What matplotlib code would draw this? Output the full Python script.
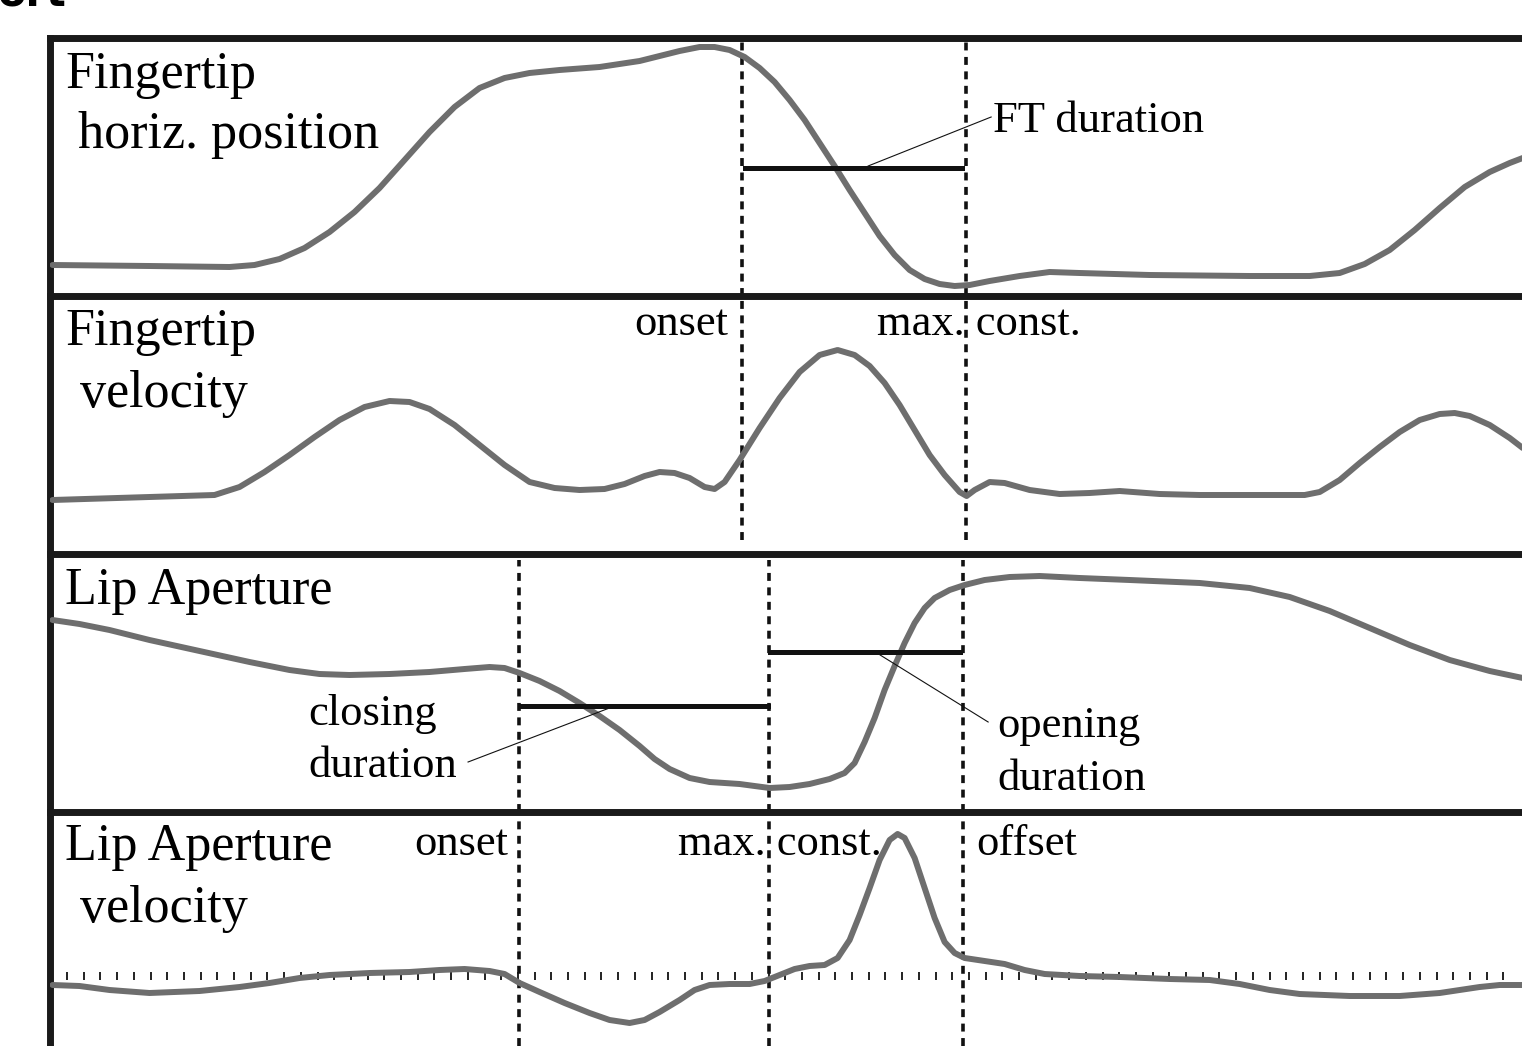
import numpy as np
import matplotlib
matplotlib.use("Agg")
import matplotlib.pyplot as plt

# time axis in frames, amplitudes in arbitrary units
ft_pos_t = [3, 100, 180, 205, 230, 255, 280, 305, 330, 355, 380, 405, 430, 455, 480, 510, 550, 590,
            630, 650, 665, 680, 695, 710, 725, 740, 755, 770, 785, 800, 815, 830, 845, 860, 875, 890,
            905, 920, 940, 970, 1000, 1030, 1100, 1200, 1260, 1290, 1315, 1340, 1365, 1390, 1415,
            1440, 1460, 1473]
ft_pos_v = [31, 30, 29, 31, 37, 48, 64, 84, 108, 136, 164, 189, 208, 218, 223, 226, 229, 235,
            245, 249, 249, 246, 239, 228, 214, 196, 176, 153, 130, 106, 83, 60, 41, 26, 17, 12,
            10, 11, 15, 20, 24, 23, 21, 20, 20, 23, 32, 46, 66, 88, 109,
            124, 133, 138]

ft_vel_t = [3, 100, 165, 190, 215, 240, 265, 290, 315, 340, 360, 380, 405, 430, 455, 480, 505, 530,
            555, 575, 595, 610, 625, 640, 655, 665, 675, 690, 710, 730, 750, 770, 788, 805, 820, 835,
            850, 865, 880, 895, 910, 917, 925, 940, 955, 980, 1010, 1040, 1070, 1110, 1150, 1210,
            1255, 1270, 1290, 1310, 1330, 1350, 1370, 1390, 1405, 1420, 1440, 1460, 1473]
ft_vel_v = [54, 57, 59, 67, 82, 99, 117, 134, 147, 153, 152, 145, 129, 109, 89, 72, 66, 64,
            65, 70, 78, 82, 81, 76, 67, 65, 72, 94, 126, 156, 182, 199, 204, 199, 188, 171,
            149, 124, 99, 79, 62, 58, 64, 72, 71, 64, 60, 61, 63, 60, 59, 59,
            59, 62, 74, 91, 107, 122, 134, 140, 141, 138, 129, 116, 106]

la_t = [3, 30, 60, 100, 150, 200, 240, 270, 300, 340, 380, 415, 440, 455, 470, 490, 510, 530,
        550, 570, 590, 605, 620, 640, 660, 690, 720, 740, 760, 780, 795, 805, 815, 825, 835, 845,
        855, 865, 875, 885, 900, 915, 935, 960, 990, 1030, 1080, 1150, 1200, 1240, 1280, 1320,
        1360, 1400, 1440, 1473]
la_v = [192, 188, 182, 172, 161, 150, 142, 138, 137, 138, 140, 143, 145, 144, 139, 131, 121, 109,
        96, 82, 66, 53, 43, 34, 30, 28, 24, 25, 28, 33, 39, 49, 70, 94, 122, 146,
        169, 189, 204, 214, 222, 227, 232, 235, 236, 234, 232, 229, 224, 215, 201, 184,
        167, 152, 141, 134]

la_vel_t = [3, 30, 60, 100, 150, 190, 220, 250, 280, 320, 360, 390, 415, 440, 455, 470, 490, 515,
            540, 560, 580, 595, 610, 630, 645, 660, 680, 700, 715, 730, 745, 760, 775, 788, 800, 810,
            820, 830, 840, 848, 855, 865, 875, 885, 895, 905, 915, 935, 955, 975, 995, 1030,
            1070, 1120, 1160, 1190, 1220, 1250, 1300, 1350, 1390, 1430, 1450, 1473]
la_vel_v = [-9, -10, -14, -17, -15, -11, -7, -2, 1, 3, 4, 6, 7, 5, 2, -7, -16, -27,
            -37, -44, -47, -44, -36, -24, -14, -9, -8, -8, -5, 1, 7, 10, 11, 18, 36, 61,
            88, 116, 136, 142, 138, 118, 88, 58, 34, 23, 18, 15, 12, 6, 2, 0,
            -1, -3, -4, -8, -14, -18, -20, -20, -17, -11, -9, -9]

# event times (frames)
ft_onset, ft_maxc = 692.5, 916.5
la_onset, la_maxc, la_offset = 469.5, 719.5, 913.5

ft_bar_level = 128
close_bar_level = 106
open_bar_level = 160

W, H = 1522, 1046
fig = plt.figure(figsize=(W / 100, H / 100), dpi=100)
plt.rcParams['font.family'] = ['Liberation Serif', 'DejaVu Serif']

left = 49.5
tops = [38.5, 296, 554, 812]
bots = [296, 554, 812, 1046]
gray = '#6e6e6e'
big = 37.5
small = 32


def panel(i, ylim):
    ax = fig.add_axes([left / W, 1 - bots[i] / H, (W - left) / W + 0.01, (bots[i] - tops[i]) / H])
    ax.set_xlim(0, W - left + 15)
    ax.set_ylim(*ylim)
    for s in ['right', 'bottom']:
        ax.spines[s].set_visible(False)
    for s in ['left', 'top']:
        ax.spines[s].set_linewidth(5)
        ax.spines[s].set_color('#1a1a1a')
    ax.set_xticks([])
    ax.set_yticks([])
    ax.patch.set_alpha(0)
    return ax


def curve(ax, t, v):
    ax.plot(t, v, color=gray, lw=4.3, solid_joinstyle='round', solid_capstyle='round', zorder=3)


def vdash(ax, x, y0=0.0, y1=1.0):
    ax.axvline(x, y0, y1, color='#111111', lw=2.6, ls=(0, (2.2, 1.8)), zorder=2)


# panel 1: fingertip position
ax1 = panel(0, (0, 257.5))
curve(ax1, ft_pos_t, ft_pos_v)
vdash(ax1, ft_onset, 0, 0.985)
vdash(ax1, ft_maxc, 0, 0.985)
ax1.plot([ft_onset + 3, ft_maxc - 4], [ft_bar_level] * 2, color='#111111', lw=3.6, zorder=4)
ax1.plot([818.5, 941.5], [130, 179], color='#111111', lw=0.8, zorder=4)
ax1.text(15.5, 208, 'Fingertip', fontsize=big, va='baseline')
ax1.text(28.5, 148, 'horiz. position', fontsize=big, va='baseline')
ax1.text(943.5, 164, 'FT duration', fontsize=small, va='baseline')

# panel 2: fingertip velocity
ax2 = panel(1, (0, 258))
curve(ax2, ft_vel_t, ft_vel_v)
vdash(ax2, ft_onset, 14 / 258, 1)
vdash(ax2, ft_maxc, 14 / 258, 1)
ax2.text(15.5, 209, 'Fingertip', fontsize=big, va='baseline')
ax2.text(30.5, 147, 'velocity', fontsize=big, va='baseline')
ax2.text(ft_onset - 14, 219, 'onset', fontsize=small, va='baseline', ha='right')
ax2.text(827.5, 219, 'max. const.', fontsize=small, va='baseline')

# panel 3: lip aperture
ax3 = panel(2, (0, 258))
curve(ax3, la_t, la_v)
for x in (la_onset, la_maxc, la_offset):
    vdash(ax3, x, 0, 0.975)
ax3.plot([la_onset + 2, la_maxc - 1], [close_bar_level] * 2, color='#111111', lw=3.6, zorder=4)
ax3.plot([la_maxc + 1, la_offset - 3], [open_bar_level] * 2, color='#111111', lw=3.6, zorder=4)
ax3.plot([562.5, 418.5], [105, 50], color='#111111', lw=0.8, zorder=4)
ax3.plot([830.5, 938.5], [157, 90], color='#111111', lw=0.8, zorder=4)
ax3.text(15.5, 208, 'Lip Aperture', fontsize=big, va='baseline')
ax3.text(258.5, 87, 'closing', fontsize=small, va='baseline')
ax3.text(258.5, 35, 'duration', fontsize=small, va='baseline')
ax3.text(947.5, 75, 'opening', fontsize=small, va='baseline')
ax3.text(947.5, 22, 'duration', fontsize=small, va='baseline')

# panel 4: lip aperture velocity
ax4 = panel(3, (-70, 164))
zero_ticks = np.arange(17.5, 1465, 16.7)
ax4.plot(zero_ticks, np.zeros(len(zero_ticks)) + 0.5,
         ls='none', marker='|', ms=6, mew=1.3, color='#111111', zorder=2)
curve(ax4, la_vel_t, la_vel_v)
for x in (la_onset, la_maxc, la_offset):
    vdash(ax4, x, 0, 0.985)
ax4.text(15.5, 116, 'Lip Aperture', fontsize=big, va='baseline')
ax4.text(30.5, 54, 'velocity', fontsize=big, va='baseline')
ax4.text(la_onset - 11, 121, 'onset', fontsize=small, va='baseline', ha='right')
ax4.text(628.5, 121, 'max. const.', fontsize=small, va='baseline')
ax4.text(926.5, 121, 'offset', fontsize=small, va='baseline')

# clipped heading remnant at the very top
fig.text(-0.002, 1 - 6 / H, 'ort', fontsize=30, fontweight='bold', family='DejaVu Sans',
         va='baseline', ha='left')

fig.savefig('out.png', dpi=100)
